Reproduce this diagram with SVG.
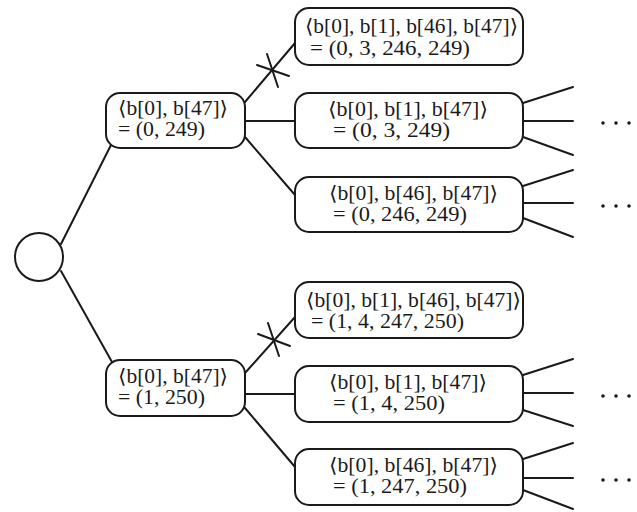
<svg xmlns="http://www.w3.org/2000/svg" width="637" height="512" viewBox="0 0 637 512">
  <style>
    .box { fill: #ffffff; stroke: #1a1a1a; stroke-width: 2; }
    .edge { fill: none; stroke: #1a1a1a; stroke-width: 2; stroke-linecap: round; }
    .lbl { font-family: "Liberation Serif", "DejaVu Serif", serif; font-size: 20px; fill: #1a1a1a; }
    .dot { fill: #1a1a1a; }
  </style>

  <!-- connectors -->
  <g id="connectors">
    <!-- root to level 1 -->
    <line class="edge" x1="61" y1="244" x2="111" y2="145"/>
    <line class="edge" x1="61" y1="271" x2="112" y2="362"/>

    <!-- upper level-1 node to level 2 -->
    <line class="edge" x1="245" y1="102" x2="295" y2="43"/>
    <line class="edge" x1="257" y1="65" x2="289" y2="76"/>
    <line class="edge" x1="267" y1="54" x2="278" y2="87"/>
    <line class="edge" x1="245" y1="121" x2="295" y2="121"/>
    <line class="edge" x1="245" y1="137" x2="295" y2="195"/>

    <!-- lower level-1 node to level 2 -->
    <line class="edge" x1="245" y1="373" x2="295" y2="317"/>
    <line class="edge" x1="258" y1="334" x2="290" y2="346"/>
    <line class="edge" x1="268" y1="323" x2="279" y2="356"/>
    <line class="edge" x1="245" y1="394" x2="295" y2="394"/>
    <line class="edge" x1="245" y1="408" x2="295" y2="467"/>

    <!-- open branches -->
    <line class="edge" x1="523" y1="103" x2="573" y2="87"/>
    <line class="edge" x1="523" y1="121" x2="573" y2="121"/>
    <line class="edge" x1="523" y1="137" x2="573" y2="155"/>

    <line class="edge" x1="523" y1="186" x2="573" y2="170"/>
    <line class="edge" x1="523" y1="203" x2="573" y2="203"/>
    <line class="edge" x1="523" y1="218" x2="573" y2="237"/>

    <line class="edge" x1="523" y1="375" x2="573" y2="359"/>
    <line class="edge" x1="523" y1="393" x2="573" y2="393"/>
    <line class="edge" x1="523" y1="410" x2="573" y2="426"/>

    <line class="edge" x1="523" y1="459" x2="573" y2="443"/>
    <line class="edge" x1="523" y1="478" x2="573" y2="478"/>
    <line class="edge" x1="523" y1="490" x2="573" y2="509"/>

    <!-- ellipses -->
    <circle class="dot" cx="603" cy="123" r="1.8"/>
    <circle class="dot" cx="616" cy="123" r="1.8"/>
    <circle class="dot" cx="629" cy="123" r="1.8"/>
    <circle class="dot" cx="603" cy="206" r="1.8"/>
    <circle class="dot" cx="616" cy="206" r="1.8"/>
    <circle class="dot" cx="629" cy="206" r="1.8"/>
    <circle class="dot" cx="603" cy="396" r="1.8"/>
    <circle class="dot" cx="616" cy="396" r="1.8"/>
    <circle class="dot" cx="629" cy="396" r="1.8"/>
    <circle class="dot" cx="603" cy="480" r="1.8"/>
    <circle class="dot" cx="616" cy="480" r="1.8"/>
    <circle class="dot" cx="629" cy="480" r="1.8"/>
  </g>

  <!-- root -->
  <g id="root">
    <circle class="box" cx="39" cy="257" r="24"/>
  </g>

  <!-- level 1 -->
  <g id="n0">
    <rect class="box" x="106" y="93" width="139" height="55" rx="14"/>
    <text class="lbl" x="118" y="115" textLength="110" lengthAdjust="spacingAndGlyphs">⟨b[0], b[47]⟩</text>
    <text class="lbl" x="118" y="136" textLength="87" lengthAdjust="spacingAndGlyphs">= (0, 249)</text>
  </g>
  <g id="n1">
    <rect class="box" x="106" y="360" width="139" height="56" rx="14"/>
    <text class="lbl" x="118" y="383" textLength="110" lengthAdjust="spacingAndGlyphs">⟨b[0], b[47]⟩</text>
    <text class="lbl" x="118" y="404" textLength="87" lengthAdjust="spacingAndGlyphs">= (1, 250)</text>
  </g>

  <!-- level 2, upper -->
  <g id="n00">
    <rect class="box" x="295" y="8" width="228" height="57" rx="14"/>
    <text class="lbl" x="305" y="33" textLength="213" lengthAdjust="spacingAndGlyphs">⟨b[0], b[1], b[46], b[47]⟩</text>
    <text class="lbl" x="310" y="55" textLength="160" lengthAdjust="spacingAndGlyphs">= (0, 3, 246, 249)</text>
  </g>
  <g id="n01">
    <rect class="box" x="295" y="93" width="228" height="55" rx="14"/>
    <text class="lbl" x="328" y="116" textLength="160" lengthAdjust="spacingAndGlyphs">⟨b[0], b[1], b[47]⟩</text>
    <text class="lbl" x="333" y="137" textLength="117" lengthAdjust="spacingAndGlyphs">= (0, 3, 249)</text>
  </g>
  <g id="n02">
    <rect class="box" x="295" y="177" width="228" height="55" rx="14"/>
    <text class="lbl" x="329" y="200" textLength="169" lengthAdjust="spacingAndGlyphs">⟨b[0], b[46], b[47]⟩</text>
    <text class="lbl" x="333" y="221" textLength="134" lengthAdjust="spacingAndGlyphs">= (0, 246, 249)</text>
  </g>

  <!-- level 2, lower -->
  <g id="n10">
    <rect class="box" x="295" y="282" width="228" height="56" rx="14"/>
    <text class="lbl" x="306" y="307" textLength="215" lengthAdjust="spacingAndGlyphs">⟨b[0], b[1], b[46], b[47]⟩</text>
    <text class="lbl" x="311" y="328" textLength="153" lengthAdjust="spacingAndGlyphs">= (1, 4, 247, 250)</text>
  </g>
  <g id="n11">
    <rect class="box" x="295" y="366" width="228" height="56" rx="14"/>
    <text class="lbl" x="329" y="389" textLength="158" lengthAdjust="spacingAndGlyphs">⟨b[0], b[1], b[47]⟩</text>
    <text class="lbl" x="333" y="410" textLength="112" lengthAdjust="spacingAndGlyphs">= (1, 4, 250)</text>
  </g>
  <g id="n12">
    <rect class="box" x="295" y="449" width="228" height="56" rx="14"/>
    <text class="lbl" x="329" y="472" textLength="169" lengthAdjust="spacingAndGlyphs">⟨b[0], b[46], b[47]⟩</text>
    <text class="lbl" x="333" y="493" textLength="134" lengthAdjust="spacingAndGlyphs">= (1, 247, 250)</text>
  </g>
</svg>
